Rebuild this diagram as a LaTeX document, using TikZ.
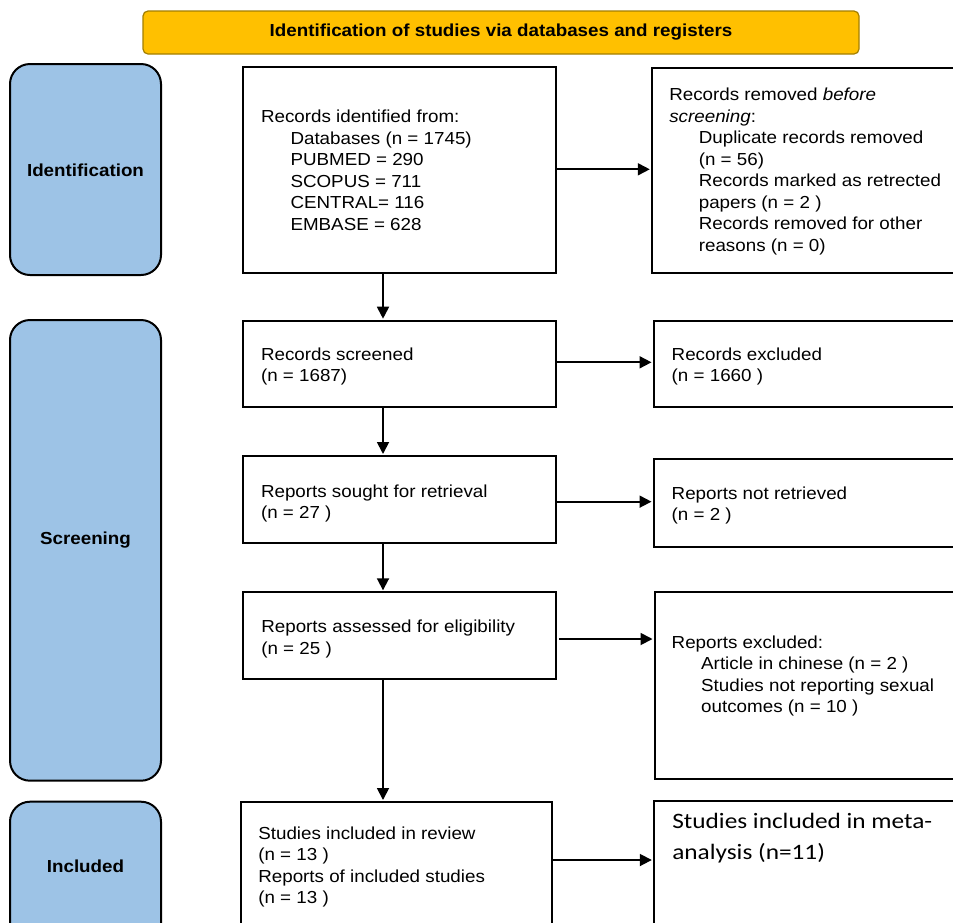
\documentclass[tikz,border=0pt]{standalone}
\usepackage{fontspec}
\setmainfont{Liberation Sans}[FakeStretch=1.08]
\newfontfamily\calib{Carlito}[FakeStretch=1.15]
\usetikzlibrary{arrows.meta,calc}
\definecolor{sideblue}{HTML}{9DC3E6}
\definecolor{titlefill}{HTML}{FFC000}
\definecolor{titledraw}{HTML}{A37F00}
\newcommand{\tlines}[1]{\begin{tabular}[t]{@{}l@{}}#1\end{tabular}}
\newcommand{\myind}{\hspace*{29.5pt}}
\begin{document}
\begin{tikzpicture}[x=1pt,y=-1pt,
  box/.style={draw=black, line width=2pt, fill=white, inner sep=0pt, outer sep=0pt},
  side/.style={draw=black, line width=2pt, fill=sideblue, rounded corners=20pt, inner sep=0pt, outer sep=0pt},
  txt/.style={anchor=base west, inner sep=0pt, outer sep=0pt, font=\fontsize{17.4}{21.5}\selectfont},
  lab/.style={inner sep=0pt, font=\fontsize{17.4}{21.5}\selectfont\bfseries},
  arr/.style={line width=1.8pt, -{Triangle[length=12pt,width=12pt]}, shorten >=2.5pt}]
\useasboundingbox (0,0) rectangle (953,922);
\fill[white] (0,0) rectangle (953,922);
\clip (0,0) rectangle (953,922);

% title
\node[draw=titledraw, line width=1.2pt, fill=titlefill, rounded corners=5pt,
      minimum width=716pt, minimum height=43pt, inner sep=0pt] (title) at (501,32.5) {};
\node[lab] (titletxt) at (title.center) {Identification of studies via databases and registers};

% side boxes
\node[side, minimum width=151pt, minimum height=211pt] (sideI) at (85.5,169.5) {};
\node[side, minimum width=151pt, minimum height=460.7pt] (sideS) at (85.5,550.35) {};
\node[side, minimum width=151pt, minimum height=143.3pt] (sideInc) at (85.5,873.35) {};
\node[lab] (sideItxt) at (85.5,170) {Identification};
\node[lab] (sideStxt) at (85.5,540) {Screening};
\node[lab] (sideInctxt) at (85.5,866) {Included};

% boxes
\node[box, minimum width=312.2pt, minimum height=205.4pt] (ident) at (399.4,170) {};
\node[box, minimum width=322.7pt, minimum height=205.6pt] (removed) at (813.65,170.5) {};
\node[box, minimum width=312.2pt, minimum height=86.6pt] (screened) at (399.4,364) {};
\node[box, minimum width=321pt, minimum height=86.6pt] (excluded) at (814.5,364) {};
\node[box, minimum width=312.4pt, minimum height=87.3pt] (sought) at (399.5,499.65) {};
\node[box, minimum width=321pt, minimum height=88pt] (notret) at (814.5,503.3) {};
\node[box, minimum width=312.4pt, minimum height=86.4pt] (assessed) at (399.5,635.5) {};
\node[box, minimum width=320pt, minimum height=187.3pt] (repexcl) at (815,685.35) {};
\node[box, minimum width=311.3pt, minimum height=140pt] (studies) at (396.35,872) {};
\node[box, minimum width=320.7pt, minimum height=141.3pt] (meta) at (814.65,871.35) {};

% texts
\node[txt] (identtxt) at (261,122.7) {\tlines{Records identified from:\\
  \myind Databases (n = 1745)\\ \myind PUBMED = 290\\ \myind SCOPUS = 711\\
  \myind CENTRAL= 116\\ \myind EMBASE = 628}};
\node[txt] (removedtxt) at (669.3,100.7) {\tlines{Records removed \textit{before}\\
  \textit{screening}:\\ \myind Duplicate records removed\\ \myind (n = 56)\\
  \myind Records marked as retrected\\ \myind papers (n = 2 )\\
  \myind Records removed for other\\ \myind reasons (n = 0)}};
\node[txt] (screenedtxt) at (261,360) {\tlines{Records screened\\ (n = 1687)}};
\node[txt] (excludedtxt) at (671.7,360) {\tlines{Records excluded\\ (n = 1660 )}};
\node[txt] (soughttxt) at (261,497) {\tlines{Reports sought for retrieval\\ (n = 27 )}};
\node[txt] (notrettxt) at (671.7,499.3) {\tlines{Reports not retrieved\\ (n = 2 )}};
\node[txt] (assessedtxt) at (261.3,632.7) {\tlines{Reports assessed for eligibility\\ (n = 25 )}};
\node[txt] (repexcltxt) at (671.7,648.3) {\tlines{Reports excluded:\\
  \myind Article in chinese (n = 2 )\\ \myind Studies not reporting sexual\\
  \myind outcomes (n = 10 )}};
\node[txt] (studiestxt) at (258.3,839.3) {\tlines{Studies included in review\\ (n = 13 )\\
  Reports of included studies\\ (n = 13 )}};
\node[txt, font=\calib\fontsize{22}{31}\selectfont] (metatxt) at (672.3,828) {\tlines{Studies included in meta-\\ analysis (n=11)}};

% vertical arrows
\coordinate (vx) at (383,0);
\draw[arr, shorten >=2pt] (ident.south -| vx) -- (screened.north -| vx);
\draw[arr, shorten >=2pt] (screened.south -| vx) -- (sought.north -| vx);
\draw[arr, shorten >=2pt] (sought.south -| vx) -- (assessed.north -| vx);
\draw[arr, shorten >=2pt] (assessed.south -| vx) -- (studies.north -| vx);

% horizontal arrows
\coordinate (h1) at ([yshift=0.7pt]ident.east);
\coordinate (h2) at ([yshift=1.7pt]screened.east);
\coordinate (h3) at ([yshift=-2pt]sought.east);
\coordinate (h4) at ([xshift=3.5pt,yshift=-3.5pt]assessed.east);
\coordinate (h5) at ([yshift=12pt]studies.east);
\draw[arr] (h1) -- (h1 -| removed.west);
\draw[arr] (h2) -- (h2 -| excluded.west);
\draw[arr] (h3) -- (h3 -| notret.west);
\draw[arr] (h4) -- (h4 -| repexcl.west);
\draw[arr] (h5) -- (h5 -| meta.west);
\end{tikzpicture}
\end{document}
